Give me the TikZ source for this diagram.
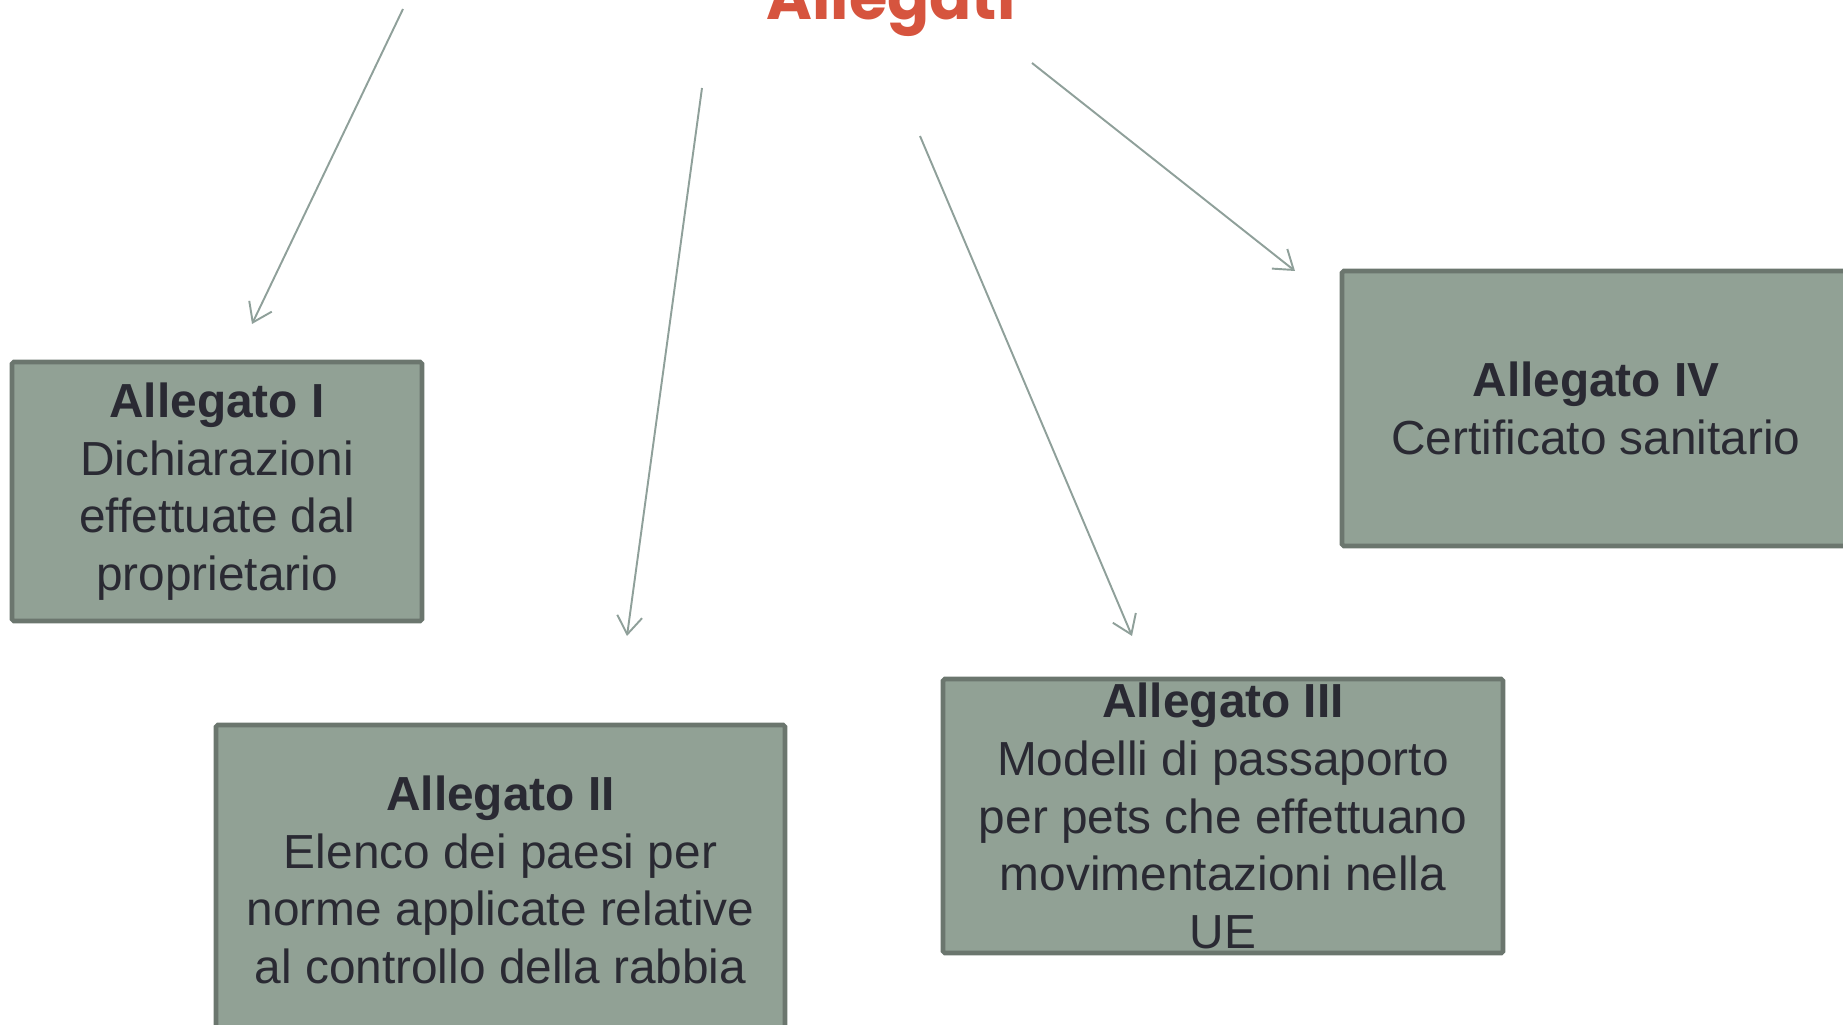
\documentclass[tikz,border=0pt]{standalone}
\usepackage{xcolor}
\usepackage{fontspec}
\setmainfont{Liberation Sans}
\newfontfamily\titlefont{Poppins}
\usepackage{tikz}
\usetikzlibrary{arrows.meta}

\definecolor{boxfill}{HTML}{91A195}
\definecolor{boxline}{HTML}{6B766E}
\definecolor{arrowgrey}{HTML}{8FA09A}
\definecolor{textdark}{HTML}{2A2A33}
\definecolor{titlered}{HTML}{D6543E}

\tikzset{
    allbox/.style={draw=boxline, fill=boxfill, line width=2.6pt, rounded corners=1pt,
        align=center, text=textdark, inner sep=0pt,
        font=\fontsize{27.2}{32.8}\selectfont},
    allarrow/.style={draw=arrowgrey, line width=1.1pt,
        -{Straight Barb[length=0.36cm, width=0.5cm]}}
}

\begin{document}
\begin{tikzpicture}
    \clip (0, 0) rectangle (36.86, -20.5);
    \useasboundingbox (0, 0) rectangle (36.86, -20.5);

    \node[anchor=base, text=titlered, font=\titlefont\bfseries\fontsize{35.4}{40}\selectfont] at (17.82, -0.4) (allegati) {Allegati};

    \node[allbox, minimum width=8.2cm, minimum height=5.18cm] at (4.34, -9.83) (all1)
        {\textbf{Allegato I}\\Dichiarazioni\\effettuate dal\\proprietario};
    \node[allbox, minimum width=11.38cm, minimum height=6.2cm] at (10.01, -17.6) (all2)
        {\textbf{Allegato II}\\Elenco dei paesi per\\norme applicate relative\\al controllo della rabbia};
    \node[allbox, minimum width=11.2cm, minimum height=5.48cm] at (24.46, -16.32) (all3)
        {\textbf{Allegato III}\\Modelli di passaporto\\per pets che effettuano\\movimentazioni nella\\UE};
    \node[allbox, minimum width=10.16cm, minimum height=5.5cm] at (31.92, -8.17) (all4)
        {\textbf{Allegato IV}\\Certificato sanitario};

    \coordinate (s1) at (8.06, -0.18);
    \coordinate (e1) at (5.04, -6.48);
    \coordinate (s2) at (14.04, -1.76);
    \coordinate (e2) at (12.54, -12.72);
    \coordinate (s3) at (18.4, -2.72);
    \coordinate (e3) at (22.64, -12.72);
    \coordinate (s4) at (20.64, -1.26);
    \coordinate (e4) at (25.9, -5.42);

    \draw[allarrow] (s1) -- (e1);
    \draw[allarrow] (s2) -- (e2);
    \draw[allarrow] (s3) -- (e3);
    \draw[allarrow] (s4) -- (e4);
\end{tikzpicture}
\end{document}
